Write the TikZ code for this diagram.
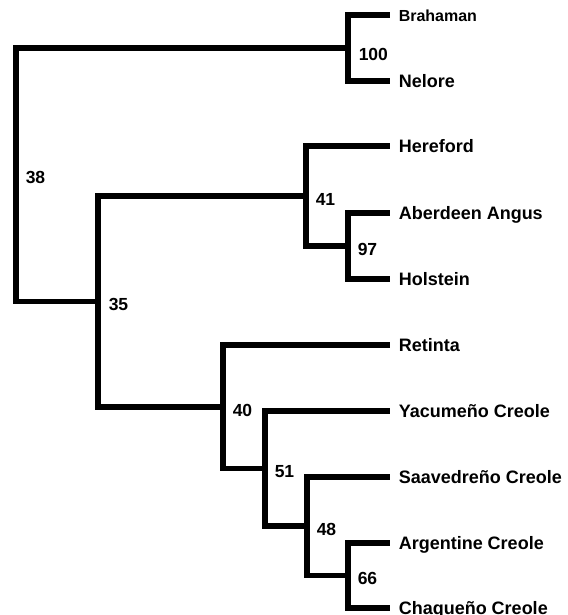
\documentclass[tikz,border=0pt]{standalone}
\usepackage{fontspec}
\setmainfont{Liberation Sans}
\usetikzlibrary{calc,positioning}

\begin{document}
\begin{tikzpicture}[x=1pt,y=-1pt,line width=5.5pt,
  leaf/.style={anchor=west,inner xsep=6pt,inner ysep=0pt,text height=13pt,text depth=0pt,font=\fontsize{18}{20}\selectfont\bfseries},
  boot/.style={anchor=west,inner sep=0pt,text height=12.5pt,text depth=0pt,font=\fontsize{17.5}{20}\selectfont\bfseries}]
\useasboundingbox (0,0) rectangle (567,615);
\newcommand{\clade}[3]{\draw (#1) |- (#2); \draw (#1) |- (#3);}
% taxa
\node[leaf,font=\fontsize{16}{18}\selectfont\bfseries] (brahaman) at (390,15) {Brahaman};
\node[leaf] (nelore) at (390,81) {Nelore};
\node[leaf] (hereford) at (390,146) {Hereford};
\node[leaf] (aberdeen) at (390,213) {Aberdeen Angus};
\node[leaf] (holstein) at (390,279) {Holstein};
\node[leaf] (retinta) at (390,345) {Retinta};
\node[leaf] (yacumeno) at (390,411) {Yacumeño Creole};
\node[leaf] (saavedreno) at (390,477) {Saavedreño Creole};
\node[leaf] (argentine) at (390,543) {Argentine Creole};
\node[leaf] (chaqueno) at (390,608) {Chaqueño Creole};
% inner nodes and bootstrap values
\coordinate (n100) at (348,48);
\coordinate (n97) at (348,246);
\coordinate (n41) at (306,196);
\coordinate (n66) at (348,575.5);
\coordinate (n48) at (307,526);
\coordinate (n51) at (265,468.5);
\coordinate (n40) at (223,406.75);
\coordinate (n35) at (98,301.4);
\coordinate (n38) at (16,174.7);
\node[boot] (b100) at ($(n100)+(8,6)$) {100};
\node[boot] (b97) at ($(n97)+(7,3)$) {97};
\node[boot] (b41) at ($(n41)+(7,3)$) {41};
\node[boot] (b66) at ($(n66)+(7,3)$) {66};
\node[boot] (b48) at ($(n48)+(7,3)$) {48};
\node[boot] (b51) at ($(n51)+(7,3)$) {51};
\node[boot] (b40) at ($(n40)+(7,3)$) {40};
\node[boot] (b35) at ($(n35)+(8,3)$) {35};
\node[boot] (b38) at ($(n38)+(7,3)$) {38};
% branches
\clade{n100}{brahaman.west}{nelore.west}
\clade{n97}{aberdeen.west}{holstein.west}
\clade{n41}{hereford.west}{n97}
\clade{n66}{argentine.west}{chaqueno.west}
\clade{n48}{saavedreno.west}{n66}
\clade{n51}{yacumeno.west}{n48}
\clade{n40}{retinta.west}{n51}
\clade{n35}{n41}{n40}
\clade{n38}{n100}{n35}
\end{tikzpicture}
\end{document}
